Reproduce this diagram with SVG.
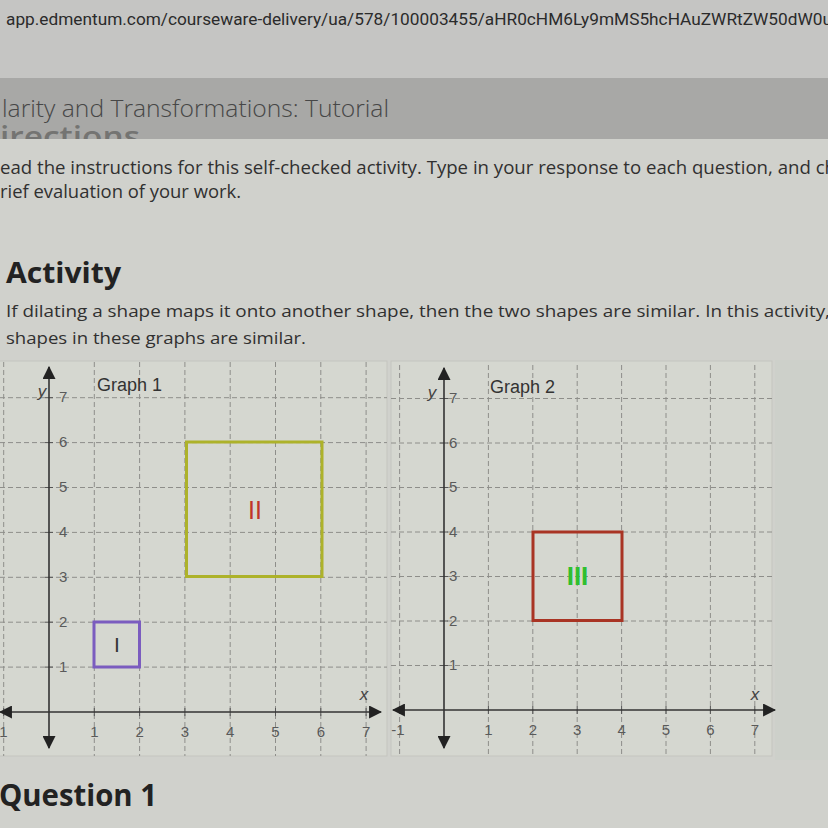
<svg xmlns="http://www.w3.org/2000/svg" width="828" height="828" viewBox="0 0 828 828">
<style>
.body{font-family:"Open Sans","Liberation Sans",sans-serif;fill:#303030}
.bold{font-weight:bold;fill:#222}
.grid{stroke:#8e8e8a;stroke-width:1;stroke-dasharray:5 3;fill:none}
.axis{stroke:#333;stroke-width:1.6;fill:none}
.tick{stroke:#555;stroke-width:1}
.num{font-family:"Liberation Sans",Arial,sans-serif;font-size:15px;fill:#5a5a5a}
.lbl{font-family:"Liberation Sans",Arial,sans-serif;font-size:17px;fill:#444;font-style:italic}
.gt{font-family:"Liberation Sans",Arial,sans-serif;font-size:18px;fill:#333}
.panel{fill:#d5d7d0;stroke:#c4c5bf;stroke-width:1}
</style>
<defs>
<marker id="ah" viewBox="0 0 12 12" refX="11" refY="6" markerWidth="13" markerHeight="13" markerUnits="userSpaceOnUse" orient="auto-start-reverse">
<path d="M0,0 L12,6 L0,12 Z" fill="#222"/>
</marker>
<clipPath id="bandclip"><rect x="0" y="124" width="828" height="15"/></clipPath>
<clipPath id="p1"><rect x="0" y="360" width="388" height="397"/></clipPath>
<clipPath id="p2"><rect x="391" y="360" width="382" height="397"/></clipPath>
</defs>

<!-- backgrounds -->
<rect x="0" y="0" width="828" height="828" fill="#d0d1cc"/>
<rect x="0" y="0" width="828" height="78" fill="#c5c5c3"/>
<rect x="0" y="78" width="828" height="61" fill="#a8a8a6"/>
<rect x="775" y="360" width="53" height="400" fill="#cdd0ca"/>

<!-- header texts -->
<g id="header">
<text x="6" y="25" font-family="Roboto,'Liberation Sans',sans-serif" font-size="17" fill="#2b2b2b" textLength="826" lengthAdjust="spacingAndGlyphs">app.edmentum.com/courseware-delivery/ua/578/100003455/aHR0cHM6Ly9mMS5hcHAuZWRtZW50dW0u</text>
<text x="2" y="117" class="body" font-size="24" font-weight="300" style="fill:#474747" textLength="387" lengthAdjust="spacingAndGlyphs">larity and Transformations: Tutorial</text>
<g clip-path="url(#bandclip)">
<text x="0" y="147" class="body" font-size="28" font-weight="600" style="fill:#747472" textLength="140" lengthAdjust="spacingAndGlyphs">irections</text>
</g>
<text x="0" y="174" class="body" font-size="17.5" textLength="836" lengthAdjust="spacingAndGlyphs">ead the instructions for this self-checked activity. Type in your response to each question, and ch</text>
<text x="0" y="198" class="body" font-size="17.5" textLength="241" lengthAdjust="spacingAndGlyphs">rief evaluation of your work.</text>
<text x="6" y="283" class="body bold" font-size="28" textLength="115" lengthAdjust="spacingAndGlyphs">Activity</text>
<text x="6" y="317" class="body" font-size="17" textLength="824" lengthAdjust="spacingAndGlyphs">If dilating a shape maps it onto another shape, then the two shapes are similar. In this activity,</text>
<text x="6" y="344" class="body" font-size="17" textLength="300" lengthAdjust="spacingAndGlyphs">shapes in these graphs are similar.</text>
<text x="-1" y="806" class="body bold" font-size="31" textLength="158" lengthAdjust="spacingAndGlyphs">Question 1</text>
</g>

<!-- Graph 1 -->
<g id="graph1">
<rect class="panel" x="-1" y="361" width="388" height="395"/>
<g clip-path="url(#p1)">
<path class="grid" d="M3.7,362V756 M94.3,362V756 M139.6,362V756 M184.9,362V756 M230.2,362V756 M275.5,362V756 M320.8,362V756 M366.1,362V756"/>
<path class="grid" d="M0,667.1H387 M0,622.2H387 M0,577.3H387 M0,532.4H387 M0,487.5H387 M0,442.6H387 M0,397.7H387"/>
</g>
<path class="tick" d="M45,667.1h8 M45,622.2h8 M45,577.3h8 M45,532.4h8 M45,487.5h8 M45,442.6h8 M45,397.7h8 M3.7,708v8 M94.3,708v8 M139.6,708v8 M184.9,708v8 M230.2,708v8 M275.5,708v8 M320.8,708v8 M366.1,708v8"/>
<text class="gt" x="97" y="391">Graph 1</text>
<text class="lbl" x="42" y="397" text-anchor="middle">y</text>
<text class="lbl" x="364" y="700" text-anchor="middle">x</text>
<g class="num">
<text x="59" y="672">1</text><text x="59" y="627">2</text><text x="59" y="582">3</text><text x="59" y="537">4</text><text x="59" y="492">5</text><text x="59" y="447">6</text><text x="59" y="402">7</text>
<g text-anchor="middle">
<text x="1" y="737">-1</text><text x="94.3" y="737">1</text><text x="139.6" y="737">2</text><text x="184.9" y="737">3</text><text x="230.2" y="737">4</text><text x="275.5" y="737">5</text><text x="320.8" y="737">6</text><text x="366.1" y="737">7</text>
</g>
</g>
</g>

<!-- Graph 2 -->
<g id="graph2">
<rect class="panel" x="391" y="361" width="381" height="395"/>
<g clip-path="url(#p2)">
<path class="grid" d="M399.6,365V756 M488.4,365V756 M532.8,365V756 M577.2,365V756 M621.6,365V756 M666,365V756 M710.4,365V756 M754.8,365V756"/>
<path class="grid" d="M391,665.5H772 M391,621H772 M391,576.5H772 M391,532H772 M391,487.5H772 M391,443H772 M391,398.5H772"/>
</g>
<path class="tick" d="M440,665.5h8 M440,621h8 M440,576.5h8 M440,532h8 M440,487.5h8 M440,443h8 M440,398.5h8 M399.6,706v8 M488.4,706v8 M532.8,706v8 M577.2,706v8 M621.6,706v8 M666,706v8 M710.4,706v8 M754.8,706v8"/>
<text class="gt" x="490" y="393">Graph 2</text>
<text class="lbl" x="432" y="398" text-anchor="middle">y</text>
<text class="lbl" x="755" y="700" text-anchor="middle">x</text>
<g class="num">
<text x="449" y="670">1</text><text x="449" y="626">2</text><text x="449" y="581">3</text><text x="449" y="537">4</text><text x="449" y="492">5</text><text x="449" y="448">6</text><text x="449" y="403">7</text>
<g text-anchor="middle">
<text x="398" y="735">-1</text><text x="488.4" y="735">1</text><text x="532.8" y="735">2</text><text x="577.2" y="735">3</text><text x="621.6" y="735">4</text><text x="666" y="735">5</text><text x="710.4" y="735">6</text><text x="754.8" y="735">7</text>
</g>
</g>
</g>

<!-- axes -->
<g id="connectors">
<line class="axis" x1="49" y1="367" x2="49" y2="748" marker-start="url(#ah)" marker-end="url(#ah)"/>
<line class="axis" x1="0" y1="712" x2="381" y2="712" marker-start="url(#ah)" marker-end="url(#ah)"/>
<line class="axis" x1="444" y1="368" x2="444" y2="748" marker-start="url(#ah)" marker-end="url(#ah)"/>
<line class="axis" x1="393" y1="710" x2="775" y2="710" marker-start="url(#ah)" marker-end="url(#ah)"/>
</g>

<!-- shapes -->
<g id="shape-I">
<rect x="94" y="622" width="45.5" height="45" fill="none" stroke="#7b5cbf" stroke-width="3"/>
<text x="117" y="652" text-anchor="middle" font-family="'Liberation Sans',Arial,sans-serif" font-size="21" fill="#333">I</text>
</g>
<g id="shape-II">
<rect x="186.5" y="442" width="135.5" height="134.5" fill="none" stroke="#adb22a" stroke-width="3"/>
<text x="255" y="519" text-anchor="middle" font-family="'Liberation Sans',Arial,sans-serif" font-size="25" fill="#c0352a">II</text>
</g>
<g id="shape-III">
<rect x="533" y="532" width="89" height="88.5" fill="none" stroke="#a93424" stroke-width="3"/>
<text x="577.5" y="585" text-anchor="middle" font-family="'Liberation Sans',Arial,sans-serif" font-size="26" font-weight="bold" fill="#2fbf2f">III</text>
</g>
</svg>
